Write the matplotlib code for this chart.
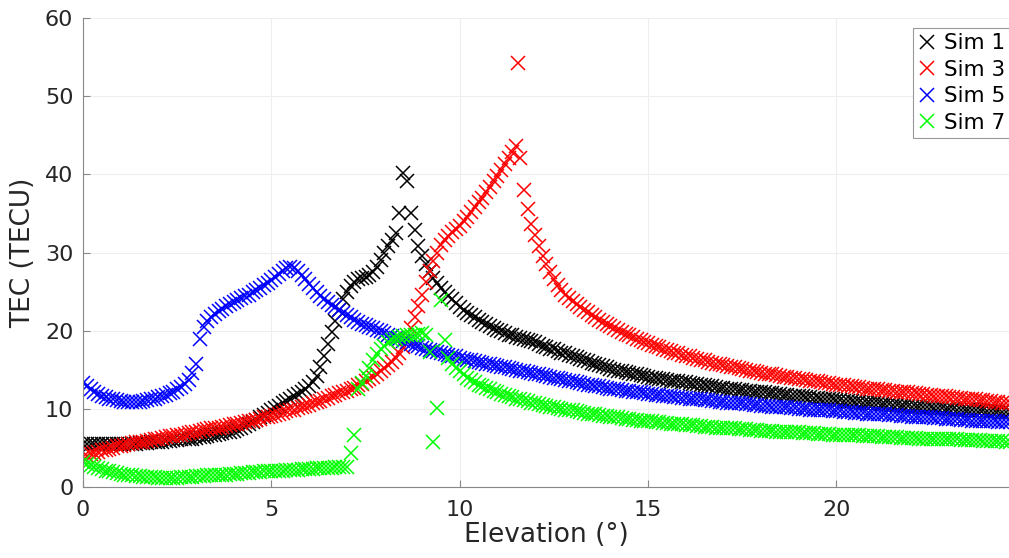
import numpy as np
import matplotlib
matplotlib.use("Agg")
import matplotlib.pyplot as plt

plt.rcParams['font.family'] = ['DejaVu Sans']

# elevation grid (deg)
elevation = np.array("""
0.0 0.1 0.2 0.3 0.4 0.5 0.6 0.7 0.8 0.9
1.0 1.1 1.2 1.3 1.4 1.5 1.6 1.7 1.8 1.9
2.0 2.1 2.2 2.3 2.4 2.5 2.6 2.7 2.8 2.9
3.0 3.1 3.2 3.3 3.4 3.5 3.6 3.7 3.8 3.9
4.0 4.1 4.2 4.3 4.4 4.5 4.6 4.7 4.8 4.9
5.0 5.1 5.2 5.3 5.4 5.5 5.6 5.7 5.8 5.9
6.0 6.1 6.2 6.3 6.4 6.5 6.6 6.7 6.8 6.9
7.0 7.1 7.2 7.3 7.4 7.5 7.6 7.7 7.8 7.9
8.0 8.1 8.2 8.3 8.4 8.5 8.6 8.7 8.8 8.9
9.0 9.1 9.2 9.3 9.4 9.5 9.6 9.7 9.8 9.9
10.0 10.1 10.2 10.3 10.4 10.5 10.6 10.7 10.8 10.9
11.0 11.1 11.2 11.3 11.4 11.5 11.6 11.7 11.8 11.9
12.0 12.1 12.2 12.3 12.4 12.5 12.6 12.7 12.8 12.9
13.0 13.1 13.2 13.3 13.4 13.5 13.6 13.7 13.8 13.9
14.0 14.1 14.2 14.3 14.4 14.5 14.6 14.7 14.8 14.9
15.0 15.1 15.2 15.3 15.4 15.5 15.6 15.7 15.8 15.9
16.0 16.1 16.2 16.3 16.4 16.5 16.6 16.7 16.8 16.9
17.0 17.1 17.2 17.3 17.4 17.5 17.6 17.7 17.8 17.9
18.0 18.1 18.2 18.3 18.4 18.5 18.6 18.7 18.8 18.9
19.0 19.1 19.2 19.3 19.4 19.5 19.6 19.7 19.8 19.9
20.0 20.1 20.2 20.3 20.4 20.5 20.6 20.7 20.8 20.9
21.0 21.1 21.2 21.3 21.4 21.5 21.6 21.7 21.8 21.9
22.0 22.1 22.2 22.3 22.4 22.5 22.6 22.7 22.8 22.9
23.0 23.1 23.2 23.3 23.4 23.5 23.6 23.7 23.8 23.9
24.0 24.1 24.2 24.3 24.4 24.5 24.6
""".split(), dtype=float)

# TEC (TECU) per simulation
sim1 = np.array("""
5.5 5.5 5.5 5.5 5.5 5.5 5.5 5.5 5.5 5.5
5.5 5.5 5.5 5.5 5.5 5.6 5.6 5.6 5.7 5.7
5.8 5.8 5.9 5.9 6.0 6.0 6.1 6.1 6.2 6.2
6.3 6.4 6.4 6.5 6.6 6.7 6.8 6.9 7.0 7.1
7.2 7.4 7.6 7.8 8.0 8.3 8.6 8.9 9.2 9.5
9.8 10.1 10.4 10.7 11.0 11.3 11.6 11.9 12.2 12.5
12.9 13.4 14.2 15.4 16.8 18.3 19.8 21.3 22.7 24.0
25.0 25.7 26.2 26.6 26.8 26.9 27.1 27.5 28.2 29.1
29.9 30.8 31.6 32.5 35.1 40.2 39.1 35.1 32.9 30.8
29.5 28.5 27.6 26.8 26.1 25.5 25.0 24.5 24.0 23.6
23.0 22.6 22.3 22.0 21.7 21.4 21.1 20.9 20.6 20.4
20.1 19.9 19.7 19.5 19.4 19.2 19.1 18.9 18.8 18.7
18.5 18.3 18.1 17.9 17.7 17.6 17.4 17.2 17.1 16.9
16.7 16.6 16.4 16.3 16.1 15.9 15.8 15.6 15.5 15.3
15.1 15.0 14.9 14.8 14.7 14.6 14.5 14.4 14.3 14.2
14.1 14.0 13.9 13.8 13.8 13.7 13.6 13.5 13.5 13.4
13.4 13.3 13.2 13.2 13.1 13.0 12.9 12.9 12.8 12.7
12.7 12.6 12.6 12.5 12.4 12.4 12.3 12.3 12.2 12.2
12.1 12.1 12.0 12.0 11.9 11.9 11.8 11.8 11.7 11.7
11.6 11.6 11.5 11.5 11.4 11.4 11.3 11.3 11.2 11.2
11.1 11.1 11.0 11.0 11.0 10.9 10.9 10.8 10.8 10.8
10.7 10.7 10.6 10.6 10.6 10.5 10.5 10.4 10.4 10.4
10.3 10.3 10.3 10.2 10.2 10.2 10.1 10.1 10.1 10.0
10.0 10.0 9.9 9.9 9.9 9.9 9.8 9.8 9.8 9.8
9.7 9.7 9.7 9.7 9.6 9.6 9.6
""".split(), dtype=float)

sim3 = np.array("""
3.8 4.0 4.2 4.3 4.5 4.7 4.8 4.9 5.0 5.2
5.3 5.4 5.5 5.6 5.7 5.8 5.8 5.9 6.0 6.1
6.2 6.3 6.4 6.5 6.5 6.6 6.7 6.8 6.9 7.0
7.1 7.2 7.3 7.4 7.5 7.5 7.6 7.7 7.8 7.9
8.0 8.1 8.2 8.3 8.4 8.5 8.6 8.7 8.9 9.0
9.1 9.2 9.4 9.5 9.7 9.8 9.9 10.1 10.2 10.4
10.5 10.7 10.9 11.0 11.2 11.4 11.6 11.8 12.0 12.1
12.3 12.5 12.7 13.0 13.2 13.5 13.8 14.1 14.5 14.8
15.2 15.6 16.0 16.5 17.1 17.9 19.0 20.4 21.8 23.2
24.6 26.2 27.6 28.9 30.0 30.9 31.6 32.1 32.6 33.0
33.4 34.0 34.6 35.2 35.8 36.4 37.0 37.7 38.4 39.1
39.8 40.5 41.3 42.1 42.9 43.6 42.1 38.0 35.6 33.7
32.2 30.8 29.6 28.5 27.5 26.6 25.8 25.2 24.6 24.2
23.8 23.4 23.0 22.7 22.4 22.0 21.7 21.4 21.1 20.8
20.6 20.3 20.1 19.8 19.6 19.4 19.2 19.0 18.8 18.6
18.4 18.2 18.0 17.9 17.7 17.5 17.4 17.2 17.1 16.9
16.8 16.7 16.5 16.4 16.3 16.2 16.0 15.9 15.8 15.7
15.6 15.5 15.4 15.3 15.2 15.1 15.0 14.9 14.8 14.7
14.6 14.5 14.5 14.4 14.3 14.2 14.1 14.1 14.0 13.9
13.8 13.8 13.7 13.6 13.5 13.5 13.4 13.3 13.3 13.2
13.1 13.1 13.0 12.9 12.9 12.8 12.8 12.7 12.6 12.6
12.5 12.5 12.4 12.4 12.3 12.3 12.2 12.2 12.1 12.1
12.0 12.0 11.9 11.9 11.8 11.8 11.7 11.7 11.6 11.6
11.5 11.5 11.4 11.4 11.3 11.3 11.2 11.2 11.1 11.1
11.0 11.0 10.9 10.9 10.8 10.8 10.7
""".split(), dtype=float)

sim5 = np.array("""
13.3 12.9 12.5 12.2 11.9 11.7 11.5 11.3 11.2 11.1
11.0 10.9 10.9 10.9 10.9 10.9 11.0 11.1 11.2 11.3
11.5 11.6 11.8 12.0 12.2 12.5 12.8 13.2 13.7 14.6
15.7 19.0 20.5 21.2 21.7 22.1 22.5 22.8 23.1 23.4
23.7 23.9 24.2 24.4 24.6 24.9 25.2 25.5 25.8 26.1
26.5 26.9 27.3 27.7 28.0 28.2 28.0 27.6 27.1 26.6
26.0 25.5 25.0 24.5 24.1 23.7 23.3 23.0 22.6 22.3
22.0 21.7 21.4 21.1 20.9 20.7 20.5 20.3 20.1 19.9
19.7 19.5 19.3 19.1 18.9 18.7 18.5 18.3 18.2 18.0
17.8 17.7 17.5 17.4 17.3 17.1 17.0 16.9 16.8 16.7
16.5 16.4 16.3 16.2 16.1 16.0 15.9 15.8 15.7 15.6
15.5 15.4 15.3 15.2 15.1 15.0 14.9 14.8 14.7 14.6
14.5 14.4 14.3 14.2 14.1 14.0 13.9 13.8 13.7 13.6
13.5 13.4 13.3 13.2 13.1 13.0 12.9 12.9 12.8 12.7
12.6 12.5 12.5 12.4 12.3 12.3 12.2 12.1 12.1 12.0
11.9 11.9 11.8 11.8 11.7 11.6 11.6 11.5 11.5 11.4
11.4 11.3 11.3 11.2 11.2 11.1 11.1 11.0 11.0 10.9
10.9 10.8 10.8 10.7 10.7 10.7 10.6 10.6 10.5 10.5
10.4 10.4 10.4 10.3 10.3 10.2 10.2 10.2 10.1 10.1
10.0 10.0 10.0 9.9 9.9 9.9 9.8 9.8 9.8 9.7
9.7 9.7 9.6 9.6 9.6 9.5 9.5 9.5 9.4 9.4
9.4 9.3 9.3 9.3 9.2 9.2 9.2 9.1 9.1 9.1
9.0 9.0 9.0 8.9 8.9 8.9 8.8 8.8 8.8 8.7
8.7 8.7 8.7 8.6 8.6 8.6 8.5 8.5 8.5 8.5
8.4 8.4 8.4 8.3 8.3 8.3 8.3
""".split(), dtype=float)

sim7 = np.array("""
3.2 3.0 2.8 2.6 2.4 2.3 2.1 2.0 1.9 1.8
1.7 1.6 1.5 1.5 1.4 1.4 1.3 1.3 1.3 1.3
1.2 1.2 1.2 1.2 1.2 1.2 1.3 1.3 1.3 1.3
1.4 1.4 1.4 1.5 1.5 1.5 1.6 1.6 1.6 1.7
1.7 1.7 1.8 1.8 1.8 1.9 1.9 1.9 2.0 2.0
2.0 2.1 2.1 2.1 2.2 2.2 2.2 2.2 2.3 2.3
2.3 2.3 2.4 2.4 2.4 2.4 2.4 2.5 2.5 2.5
2.5 4.4 6.6 12.6 13.3 14.2 15.2 16.2 17.0 17.6
18.1 18.5 18.8 19.0 19.2 19.3 19.4 19.5 19.5 19.6
19.7 19.5 17.3 5.8 10.1 23.9 18.8 16.5 15.8 15.2
14.8 14.4 14.0 13.7 13.4 13.1 12.9 12.7 12.5 12.3
12.1 11.9 11.8 11.6 11.5 11.3 11.2 11.1 11.0 10.8
10.7 10.6 10.5 10.4 10.3 10.2 10.1 10.0 9.9 9.8
9.8 9.7 9.6 9.5 9.4 9.4 9.3 9.2 9.1 9.1
9.0 8.9 8.9 8.8 8.7 8.7 8.6 8.6 8.5 8.5
8.4 8.4 8.3 8.3 8.2 8.2 8.1 8.1 8.0 8.0
7.9 7.9 7.9 7.8 7.8 7.7 7.7 7.7 7.6 7.6
7.6 7.5 7.5 7.5 7.4 7.4 7.4 7.3 7.3 7.3
7.2 7.2 7.2 7.2 7.1 7.1 7.1 7.0 7.0 7.0
7.0 6.9 6.9 6.9 6.9 6.8 6.8 6.8 6.8 6.7
6.7 6.7 6.7 6.6 6.6 6.6 6.6 6.5 6.5 6.5
6.5 6.5 6.4 6.4 6.4 6.4 6.4 6.3 6.3 6.3
6.3 6.3 6.2 6.2 6.2 6.2 6.2 6.1 6.1 6.1
6.1 6.1 6.1 6.0 6.0 6.0 6.0 6.0 6.0 5.9
5.9 5.9 5.9 5.9 5.9 5.8 5.8
""".split(), dtype=float)

# isolated spike in Sim 3
sim3_extra_x = [11.55]
sim3_extra_y = [54.2]

labels = ['Sim 1', 'Sim 3', 'Sim 5', 'Sim 7']
colors = ['black', 'red', 'blue', '#00ff00']

fig = plt.figure(figsize=(10.09, 5.58), dpi=100)
ax = fig.add_axes([0.0823, 0.1272, 0.9177, 0.8405])

series = [sim1, sim3, sim5, sim7]
for s, lab, c in zip(series, labels, colors):
    ax.plot(elevation, s, 'x', linestyle='none', color=c, ms=10, mew=1.1, label=lab)
ax.plot(sim3_extra_x, sim3_extra_y, 'x', linestyle='none', color=colors[1], ms=10, mew=1.1)

ax.set_xlim(0, 24.58)
ax.set_ylim(0, 60)
ax.set_xticks([0, 5, 10, 15, 20])
ax.set_yticks([0, 10, 20, 30, 40, 50, 60])

ax.grid(True, color='#eeeeee', linewidth=0.8)
ax.set_axisbelow(True)
for side in ['top', 'right']:
    ax.spines[side].set_visible(False)
for side in ['left', 'bottom']:
    ax.spines[side].set_color('#888888')
    ax.spines[side].set_linewidth(0.8)

ax.tick_params(direction='in', length=5, width=0.8, color='#888888',
               labelcolor='#262626', labelsize=16)
ax.tick_params(axis='x', pad=9)
ax.tick_params(axis='y', pad=7)

ax.set_xlabel('Elevation (°)', fontsize=19, color='#262626', labelpad=2)
ax.set_ylabel('TEC (TECU)', fontsize=19, color='#262626', labelpad=6)

leg = ax.legend(loc='upper left', bbox_to_anchor=(913 / 1009, 1 - 28 / 558),
                bbox_transform=fig.transFigure, fontsize=15.5, frameon=True,
                fancybox=False, framealpha=1, edgecolor='#999999',
                handlelength=0.8, handletextpad=0.4, labelspacing=0.3,
                borderpad=0.25, borderaxespad=0)
leg.get_frame().set_linewidth(0.8)

fig.savefig('out.png', dpi=100)
